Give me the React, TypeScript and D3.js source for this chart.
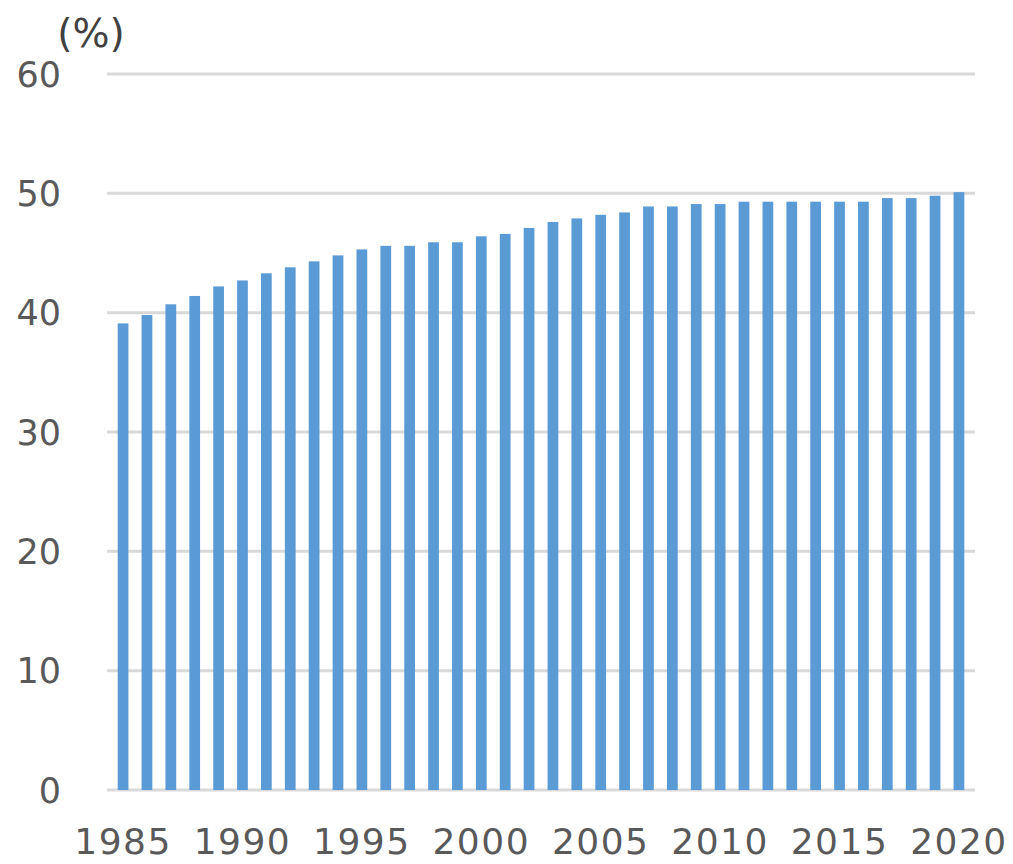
import * as d3 from 'd3';
import React from 'react';

const years: number[] = d3.range(1985, 2021);
const values: number[] = [
  39.1, 39.8, 40.7, 41.4, 42.2, 42.7, 43.3, 43.8, 44.3, 44.8,
  45.3, 45.6, 45.6, 45.9, 45.9, 46.4, 46.6, 47.1, 47.6, 47.9,
  48.2, 48.4, 48.9, 48.9, 49.1, 49.1, 49.3, 49.3, 49.3, 49.3,
  49.3, 49.3, 49.6, 49.6, 49.8, 50.1,
];
const yTicks: number[] = [0, 10, 20, 30, 40, 50, 60];
const xLabels: number[] = [1985, 1990, 1995, 2000, 2005, 2010, 2015, 2020];
const unitLabel = '(%)';

function App() {
  const width = 1013;
  const height = 864;
  const gridLeft = 107;
  const gridRight = 975;

  const x = d3
    .scaleBand<number>()
    .domain(years)
    .range([111, 971])
    .paddingInner(0.55)
    .paddingOuter(0.28);

  const y = d3.scaleLinear().domain([0, 60]).range([790, 74]);

  const textColor = '#595959';
  const font = '"DejaVu Sans", Verdana, sans-serif';

  return (
    <svg
      width={width}
      height={height}
      style={{ position: 'absolute', left: 0, top: 0, background: '#fff' }}
    >
      <g className="grid">
        {yTicks.map((t) => (
          <line
            key={t}
            x1={gridLeft}
            x2={gridRight}
            y1={y(t)}
            y2={y(t)}
            stroke="#d9d9d9"
            strokeWidth={3}
          />
        ))}
      </g>
      <g className="bars">
        {years.map((yr, i) => (
          <rect
            key={yr}
            x={x(yr)}
            width={x.bandwidth()}
            y={y(values[i])}
            height={y(0) - y(values[i])}
            fill="#5b9bd5"
          />
        ))}
      </g>
      <g className="y-axis" fontFamily={font} fontSize={35} fill={textColor}>
        {yTicks.map((t) => (
          <text key={t} x={61} y={y(t)} dy="0.36em" textAnchor="end">
            {t}
          </text>
        ))}
        <text x={91} y={47} textAnchor="middle" fontSize={39} fill="#404040">
          {unitLabel}
        </text>
      </g>
      <g className="x-axis" fontFamily={font} fontSize={36} fill={textColor}>
        {xLabels.map((yr) => (
          <text
            key={yr}
            x={(x(yr) || 0) + x.bandwidth() / 2}
            y={854}
            textAnchor="middle"
            letterSpacing={1.5}
          >
            {yr}
          </text>
        ))}
      </g>
    </svg>
  );
}

export default App;
